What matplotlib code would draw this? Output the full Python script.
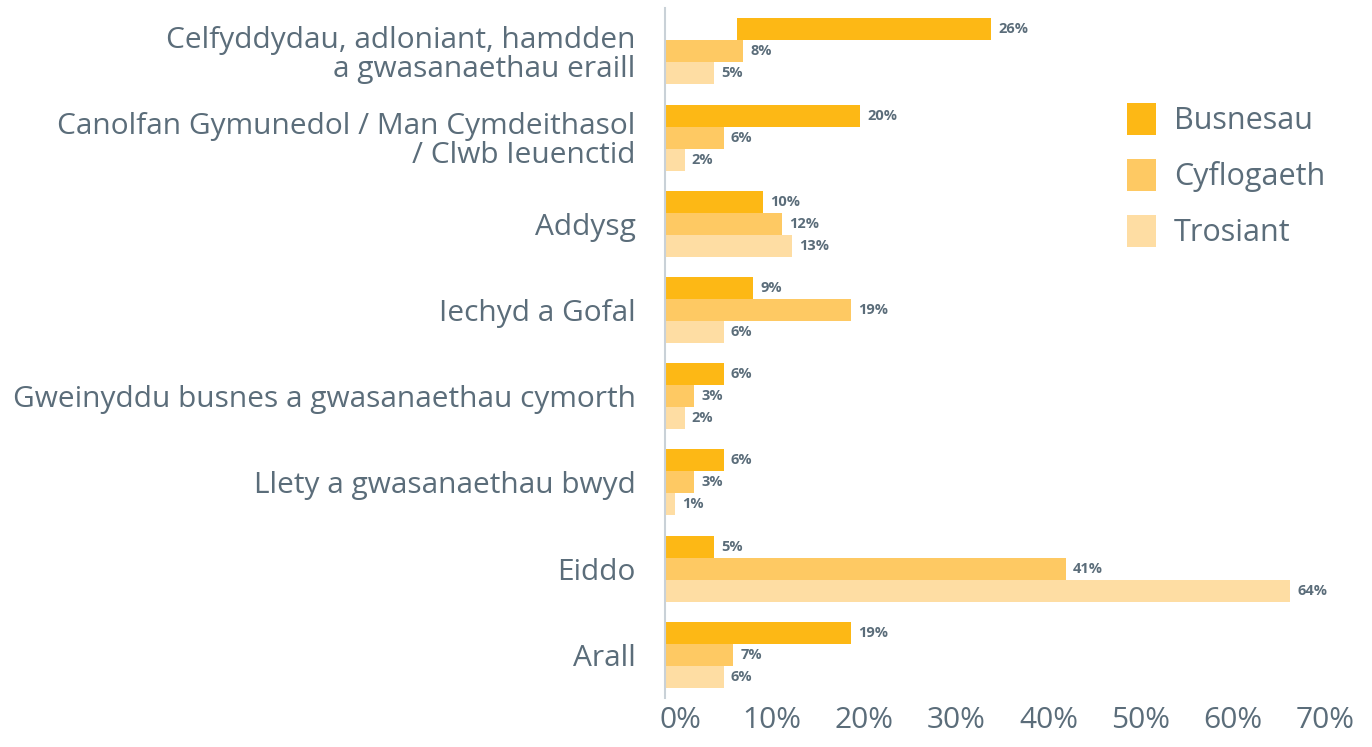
import numpy as np
import matplotlib
matplotlib.use("Agg")
import matplotlib.pyplot as plt
import matplotlib.transforms as mtransforms
from matplotlib.patches import Patch

plt.rcParams['font.family'] = ['Open Sans', 'DejaVu Sans']

categories = [
    "Celfyddydau, adloniant, hamdden\na gwasanaethau eraill",
    "Canolfan Gymunedol / Man Cymdeithasol\n/ Clwb Ieuenctid",
    "Addysg",
    "Iechyd a Gofal",
    "Gweinyddu busnes a gwasanaethau cymorth",
    "Llety a gwasanaethau bwyd",
    "Eiddo",
    "Arall",
]
series_names = ["Busnesau", "Cyflogaeth", "Trosiant"]
busnesau = [26, 20, 10, 9, 6, 6, 5, 19]
cyflogaeth = [8, 6, 12, 19, 3, 3, 41, 7]
trosiant = [5, 2, 13, 6, 2, 1, 64, 6]
# the first Busnesau bar is drawn detached from the axis in the original
busnesau_start = [7.4, 0, 0, 0, 0, 0, 0, 0]
xticks = [0, 10, 20, 30, 40, 50, 60, 70]

colors = ["#FDB815", "#FEC963", "#FEDDA3"]
text_col = "#5B6D7A"

fig = plt.figure(figsize=(13.72, 7.47), dpi=100)
ax = fig.add_axes([0.4847, 0.0656, 0.4985, 0.9234])

y = np.arange(len(categories))
h = 0.255
all_vals = [busnesau, cyflogaeth, trosiant]
lefts = [busnesau_start, [0] * len(categories), [0] * len(categories)]
for i, (vals, left, c) in enumerate(zip(all_vals, lefts, colors)):
    pos = y + (i - 1) * h
    ax.barh(pos, vals, height=h, left=left, color=c, label=series_names[i])
    for p, v, l in zip(pos, vals, left):
        ax.text(l + v + 0.75, p, f"{v}%", va="center", ha="left",
                fontsize=10.5, fontweight="bold", color=text_col)

ax.set_ylim(len(categories) - 0.5, -0.5)
ax.set_xlim(0, 70)
ax.set_xticks(xticks)
ax.set_xticklabels([f"{t}%" for t in xticks])
ax.set_yticks(y)
ax.set_yticklabels(categories, linespacing=1.0)
ax.tick_params(axis="x", length=0, labelsize=21.5, colors=text_col, pad=6)
ax.tick_params(axis="y", length=0, labelsize=21.5, colors=text_col, pad=21)
for s in ["top", "right", "bottom"]:
    ax.spines[s].set_visible(False)
ax.spines["left"].set_color("#C9D1D7")
ax.spines["left"].set_linewidth(1.5)

# x labels in the original are packed slightly tighter than the ticks
for k, lab in enumerate(ax.get_xticklabels()):
    dx = (15 - 5.6 * k) / 100.0
    lab.set_transform(lab.get_transform() +
                      mtransforms.ScaledTranslation(dx, 0, fig.dpi_scale_trans))

handles = [Patch(facecolor=c, edgecolor="none") for c in colors]
leg = ax.legend(handles, series_names, loc="upper left", bbox_to_anchor=(0.635, 0.903),
                frameon=False, fontsize=22, handlelength=0.95, handleheight=1.25,
                handletextpad=0.6, labelspacing=0.74)
for t in leg.get_texts():
    t.set_color(text_col)

fig.savefig("out.png", dpi=100)
